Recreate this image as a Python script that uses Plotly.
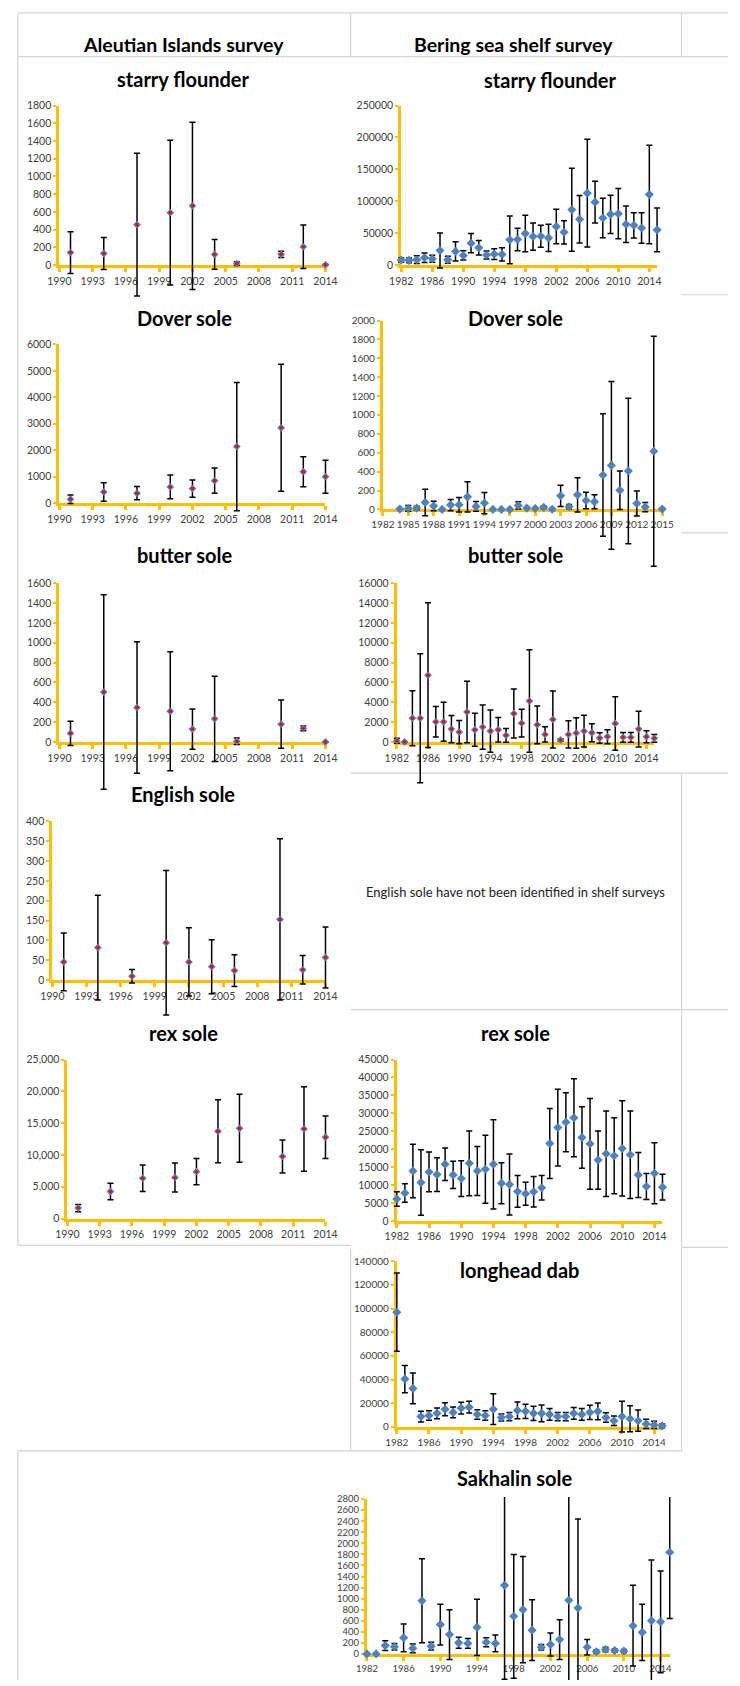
import plotly.graph_objects as go

W, H = 740, 1686

# ---------------- data ----------------
ai_years = [1991, 1994, 1997, 2000, 2002, 2004, 2006, 2010, 2012, 2014]
ai_xticks = [1990, 1993, 1996, 1999, 2002, 2005, 2008, 2011, 2014]

ai_starry = [140, 130, 455, 590, 668, 119, 15, 120, 205, 2]
ai_starry_err = [235, 180, 805, 817, 944, 168, 22, 35, 246, 4]
ai_dover = [150, 425, 375, 612, 550, 850, 2137, 2850, 1187, 1000]
ai_dover_err = [160, 350, 250, 450, 325, 475, 2425, 2400, 563, 625]
ai_butter = [87, 503, 347, 310, 130, 233, 7, 180, 137, 0]
ai_butter_err = [123, 980, 663, 600, 203, 430, 33, 243, 23, 0]
ai_english = [46, 82, 10, 94, 46, 34, 24, 153, 26, 57]
ai_english_err = [73, 132, 17, 182, 86, 68, 40, 203, 36, 77]
ai_rex = [1660, 4260, 6340, 6450, 7380, 13720, 14190, 9770, 14090, 12790]
ai_rex_err = [570, 1300, 2080, 2290, 2080, 4940, 5350, 2600, 6650, 3330]

bs_years = [1982, 1983, 1984, 1985, 1986, 1987, 1988, 1989, 1990, 1991, 1992,
            1993, 1994, 1995, 1996, 1997, 1998, 1999, 2000, 2001, 2002, 2003,
            2004, 2005, 2006, 2007, 2008, 2009, 2010, 2011, 2012, 2013, 2014, 2015]
bs_xticks4 = [1982, 1986, 1990, 1994, 1998, 2002, 2006, 2010, 2014]
bs_xticks3 = [1982, 1985, 1988, 1991, 1994, 1997, 2000, 2003, 2006, 2009, 2012, 2015]

bs_starry = [7800, 7300, 8300, 11400, 9900, 22800, 8300, 21300, 15000, 34200, 27000,
             15600, 17100, 16600, 39400, 39900, 49300, 44600, 45100, 42500, 60200, 51300,
             86600, 71600, 112600, 98500, 73700, 79400, 80400, 63800, 62200, 58100, 110500, 55000]
bs_starry_err = [3600, 3600, 6000, 7500, 5500, 27500, 5500, 15000, 7300, 15000, 11400,
                 6200, 8300, 10400, 37400, 17700, 28500, 21300, 17100, 21300, 27000, 18200,
                 64900, 37300, 84500, 32700, 31000, 30000, 39400, 28500, 19700, 23900, 77300, 34200]

bs_dover_years = [1984, 1985, 1986, 1987, 1988, 1989, 1990, 1991, 1992, 1993, 1994,
                  1995, 1996, 1997, 1998, 1999, 2000, 2001, 2002, 2003, 2004, 2005,
                  2006, 2007, 2008, 2009, 2010, 2011, 2012, 2013, 2014, 2015]
bs_dover = [3, 10, 14, 74, 35, 0, 46, 49, 133, 32, 67, 0, 0, 0, 42, 14, 10, 21, 2,
            144, 28, 154, 95, 80, 364, 466, 203, 406, 63, 25, 616, 3]
bs_dover_err = [0, 30, 20, 140, 50, 0, 60, 77, 161, 52, 112, 0, 0, 0, 38, 10, 8, 14, 3,
                112, 24, 182, 87, 74, 648, 889, 203, 771, 133, 49, 1219, 0]

bs_butter = [133, 0, 2400, 2400, 6733, 2033, 2033, 1300, 1000, 3033, 1233, 1500, 1100,
             1233, 667, 2867, 1900, 4133, 1733, 767, 2267, 200, 767, 900, 1100, 933, 400,
             533, 1867, 467, 467, 1300, 533, 367]
bs_butter_err = [250, 0, 2767, 6500, 7300, 1533, 1967, 1367, 1167, 3100, 1667, 2233, 2133,
                 1233, 700, 2467, 1400, 5167, 1900, 767, 2867, 133, 1367, 1533, 1600, 900,
                 533, 700, 2700, 500, 500, 1800, 600, 400]

bs_rex = [6090, 7750, 13930, 10700, 13650, 12920, 15780, 12820, 11810, 16050, 13930,
          14390, 15780, 10520, 10150, 8210, 7570, 8120, 9230, 21590, 26020, 27490, 28780,
          23250, 21490, 16970, 18730, 18170, 20200, 18450, 12820, 9590, 13280, 9410]
bs_rex_err = [2030, 2580, 7470, 9130, 5540, 4710, 4520, 3780, 4980, 9040, 6830, 9500,
              12450, 5720, 8490, 4430, 3230, 4240, 3410, 9780, 10700, 8210, 10890, 8580,
              12640, 8120, 11900, 10610, 13280, 12180, 6270, 3600, 8490, 3600]

bs_longhead = [97000, 40500, 32600, 8800, 9700, 11500, 15000, 12300, 15900, 16700, 10600,
               9700, 15000, 8000, 8800, 14000, 13200, 11500, 11500, 10600, 8800, 8800,
               11500, 10600, 12300, 13200, 8000, 5300, 8800, 7000, 5300, 2600, 1800, 900]
bs_longhead_err = [33000, 11500, 13000, 4500, 4000, 4500, 5500, 4500, 5000, 5000, 4000,
                   4000, 13000, 3000, 3500, 7000, 6000, 6000, 7000, 5000, 3500, 3500, 5000,
                   5000, 6000, 7000, 4000, 4000, 13000, 11000, 9000, 4000, 3000, 1500]

bs_sakhalin = [0, 0, 150, 130, 290, 100, 960, 140, 530, 350, 200, 190, 480, 210, 190,
               1240, 680, 800, 430, 120, 170, 260, 970, 830, 120, 40, 80, 60, 50, 510,
               390, 600, 580, 1840]
bs_sakhalin_err = [0, 0, 90, 60, 250, 80, 760, 70, 370, 450, 100, 90, 510, 80, 150,
                   1700, 1120, 960, 550, 50, 210, 360, 2000, 1610, 140, 30, 40, 30, 30,
                   730, 510, 1100, 920, 1200]

header_left = "Aleutian Islands survey"
header_right = "Bering sea shelf survey"
note_text = "English sole have not been identified in shelf surveys"

# ---------------- style ----------------
ORANGE = "#FFC000"
BLUE = "#4F81BD"
RED = "#FF0000"
BORDER = "#D4D4D4"
TICKCOL = "#404040"
FONT = "Lato"

panels = [
    dict(x=ai_years, y=ai_starry, e=ai_starry_err, xpx=(49, 324), ypx=(99.3, 260),
         xr=(1990, 2014), ymax=1800, dt=200, xt=ai_xticks, red=True, fmt="d",
         title="starry flounder", tpos=(177, 73), fs=10.5, top=40),
    dict(x=bs_years, y=bs_starry, e=bs_starry_err, xpx=(402.3, 666.7), ypx=(99.3, 260),
         xr=(1982, 2015), ymax=250000, dt=50000, xt=bs_xticks4, red=False, fmt="d",
         title="starry flounder", tpos=(556.7, 74), fs=10.5, top=40),
    dict(x=ai_years, y=ai_dover, e=ai_dover_err, xpx=(49, 324), ypx=(340, 500),
         xr=(1990, 2014), ymax=6000, dt=1000, xt=ai_xticks, red=True, fmt="d",
         title="Dover sole", tpos=(178, 313), fs=10.5, top=40),
    dict(x=bs_dover_years, y=bs_dover, e=bs_dover_err, xpx=(383.3, 672), ypx=(316, 506.3),
         xr=(1982, 2015), ymax=2000, dt=200, xt=bs_xticks3, red=False, fmt="d",
         title="Dover sole", tpos=(520, 313), fs=10, top=20),
    dict(x=ai_years, y=ai_butter, e=ai_butter_err, xpx=(49, 324), ypx=(580.7, 740.7),
         xr=(1990, 2014), ymax=1600, dt=200, xt=ai_xticks, red=True, fmt="d",
         title="butter sole", tpos=(178, 552.7), fs=10.5, top=40),
    dict(x=bs_years, y=bs_butter, e=bs_butter_err, xpx=(397.7, 663.8), ypx=(580.7, 740.7),
         xr=(1982, 2015), ymax=16000, dt=2000, xt=bs_xticks4, red=True, fmt="d",
         title="butter sole", tpos=(520, 552.7), fs=10.5, top=40),
    dict(x=ai_years, y=ai_english, e=ai_english_err, xpx=(41.7, 324), ypx=(820.7, 980.7),
         xr=(1990, 2014), ymax=400, dt=50, xt=ai_xticks, red=True, fmt="d",
         title="English sole", tpos=(177, 793), fs=10.5, top=40),
    dict(x=ai_years, y=ai_rex, e=ai_rex_err, xpx=(57.3, 324), ypx=(1060.7, 1221),
         xr=(1990, 2014), ymax=25000, dt=5000, xt=ai_xticks, red=True, fmt=",d",
         title="rex sole", tpos=(177.3, 1034), fs=10.5, top=40),
    dict(x=bs_years, y=bs_rex, e=bs_rex_err, xpx=(397.7, 672.3), ypx=(1060.7, 1223.3),
         xr=(1982, 2015), ymax=45000, dt=5000, xt=bs_xticks4, red=False, fmt="d",
         title="rex sole", tpos=(520, 1034), fs=10.5, top=40),
    dict(x=bs_years, y=bs_longhead, e=bs_longhead_err, xpx=(397.7, 672), ypx=(1264, 1431),
         xr=(1982, 2015), ymax=140000, dt=20000, xt=bs_xticks4, red=False, fmt="d",
         title="longhead dab", tpos=(525, 1273), fs=10, top=10),
    dict(x=bs_years, y=bs_sakhalin, e=bs_sakhalin_err, xpx=(366.8, 679.8), ypx=(1503.7, 1659.7),
         xr=(1982, 2015), ymax=2800, dt=200, xt=bs_xticks4, red=False, fmt="d",
         title="Sakhalin sole", tpos=(520, 1482), fs=9.5, top=2),
]

fig = go.Figure()
layout = dict(width=W, height=H, margin=dict(l=0, r=0, t=0, b=0),
              paper_bgcolor="white", plot_bgcolor="rgba(0,0,0,0)",
              showlegend=False, annotations=[], shapes=[])


def ax_names(n):
    return ("x" if n == 1 else f"x{n}", "y" if n == 1 else f"y{n}",
            "xaxis" if n == 1 else f"xaxis{n}", "yaxis" if n == 1 else f"yaxis{n}")


# pass 1: visible axes (drawn first, underneath)
for i, p in enumerate(panels, start=1):
    xa, ya, xkey, ykey = ax_names(i)
    tf = dict(family=FONT, size=p["fs"], color=TICKCOL)
    layout[xkey] = dict(domain=[p["xpx"][0] / W, p["xpx"][1] / W], range=list(p["xr"]),
                        anchor=ya, showline=True, linecolor=ORANGE, linewidth=3,
                        ticks="outside", ticklen=4, tickwidth=2.5, tickcolor=ORANGE,
                        tickmode="array", tickvals=p["xt"], tickfont=tf, tickangle=0,
                        showgrid=False, zeroline=False, fixedrange=True)
    layout[ykey] = dict(domain=[1 - p["ypx"][1] / H, 1 - p["ypx"][0] / H],
                        range=[0, p["ymax"]], anchor=xa, showline=True,
                        linecolor=ORANGE, linewidth=3, ticks="outside", ticklen=3,
                        tickwidth=2, tickcolor=ORANGE, dtick=p["dt"], tick0=0,
                        tickformat=p["fmt"], tickfont=tf, showgrid=False,
                        zeroline=False, fixedrange=True)
    # transparent placeholder so the axis pair is rendered
    fig.add_trace(go.Scatter(x=p["x"], y=p["y"], mode="markers", xaxis=xa, yaxis=ya,
                             marker=dict(opacity=0, size=1), hoverinfo="skip"))

# pass 2: data on invisible axes with identical scale but larger (unclipped) area
for i, p in enumerate(panels, start=1):
    j = i + 20
    oxa, oya, oxkey, oykey = ax_names(j)
    x0, x1 = p["xpx"]
    y0, y1 = p["ypx"]
    kx = (p["xr"][1] - p["xr"][0]) / (x1 - x0)
    ky = p["ymax"] / (y1 - y0)
    ext_x = 10
    ext_b = min(90, H - y1)
    ext_t = p["top"]
    layout[oxkey] = dict(domain=[(x0 - ext_x) / W, (x1 + ext_x) / W],
                         range=[p["xr"][0] - ext_x * kx, p["xr"][1] + ext_x * kx],
                         anchor=oya, visible=False, fixedrange=True)
    layout[oykey] = dict(domain=[1 - (y1 + ext_b) / H, 1 - (y0 - ext_t) / H],
                         range=[-ext_b * ky, p["ymax"] + ext_t * ky],
                         anchor=oxa, visible=False, fixedrange=True)

    big = not p["red"]
    fig.add_trace(go.Scatter(
        x=p["x"], y=p["y"], mode="markers", xaxis=oxa, yaxis=oya, cliponaxis=False,
        marker=dict(symbol="diamond", size=7 if big else 6, color=BLUE,
                    line=dict(width=0)),
        error_y=dict(type="data", array=p["e"], symmetric=True, visible=True,
                     color="black", thickness=1.5, width=3),
        hoverinfo="skip"))
    if p["red"]:
        fig.add_trace(go.Scatter(
            x=p["x"], y=p["y"], mode="markers", xaxis=oxa, yaxis=oya, cliponaxis=False,
            marker=dict(symbol="circle", size=3.5, color=RED, line=dict(width=0)),
            hoverinfo="skip"))

    layout["annotations"].append(dict(
        text=p["title"], x=p["tpos"][0] / W, y=1 - p["tpos"][1] / H,
        xref="paper", yref="paper", xanchor="center", yanchor="middle",
        showarrow=False, font=dict(family=FONT, size=20, color="black", weight="bold")))

# headers and note
for txt, cx in [(header_left, 177), (header_right, 518)]:
    layout["annotations"].append(dict(
        text=txt, x=cx / W, y=1 - 37.6 / H, xref="paper", yref="paper",
        xanchor="center", yanchor="middle", showarrow=False,
        font=dict(family=FONT, size=19.5, color="black", weight="bold")))
layout["annotations"].append(dict(
    text=note_text, x=520 / W, y=1 - 891.7 / H, xref="paper", yref="paper",
    xanchor="center", yanchor="middle", showarrow=False,
    font=dict(family=FONT, size=13, color="#222222")))

# table borders (pixel segments)
segs = [
    (6, 6, 740, 6), (6, 50, 740, 50), (6, 6, 6, 1248), (350, 6, 350, 50), (692, 6, 692, 50),
    (692, 290, 740, 290), (692, 530, 740, 530), (350, 772, 740, 772),
    (692, 772, 692, 1250), (350, 1010.5, 740, 1010.5), (692, 1250, 740, 1250),
    (6, 1248, 350, 1248), (350, 1252, 350, 1455), (692, 1250, 692, 1455),
    (6, 1455, 692, 1455), (6, 1455, 6, 1686),
]
for sx0, sy0, sx1, sy1 in segs:
    layout["shapes"].append(dict(type="line", xref="paper", yref="paper",
                                 x0=sx0 / W, x1=sx1 / W, y0=1 - sy0 / H, y1=1 - sy1 / H,
                                 line=dict(color=BORDER, width=1.2), layer="below"))

fig.update_layout(**layout)
fig.write_html("out.html", config={"displayModeBar": False},
               post_script="document.body.style.margin='0';document.body.style.overflow='hidden';")
